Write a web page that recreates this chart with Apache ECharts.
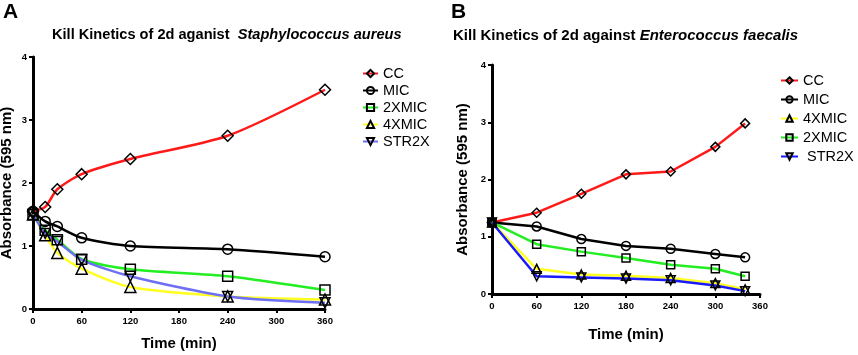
<!DOCTYPE html>
<html>
<head>
<meta charset="utf-8">
<script src="https://cdn.jsdelivr.net/npm/echarts@6/dist/echarts.min.js"></script>
<style>
  html, body { margin: 0; padding: 0; background: #fff; }
  #chart { width: 858px; height: 355px; }
</style>
</head>
<body>
<div id="chart"></div>
<script>
// panel A - Staphylococcus aureus
var timeA = [0, 15, 30, 60, 120, 240, 360]
var ccA = [1.55, 1.62, 1.9, 2.14, 2.38, 2.75, 3.48]
var micA = [1.55, 1.39, 1.31, 1.13, 1.0, 0.95, 0.83]
var mic2A = [1.5, 1.25, 1.1, 0.79, 0.63, 0.52, 0.3]
var mic4A = [1.5, 1.17, 0.89, 0.64, 0.35, 0.2, 0.15]
var strA = [1.5, 1.2, 1.07, 0.78, 0.52, 0.2, 0.1]

// panel B - Enterococcus faecalis
var timeB = [0, 60, 120, 180, 240, 300, 340]
var ccB = [1.25, 1.42, 1.75, 2.09, 2.14, 2.57, 2.98]
var micB = [1.25, 1.18, 0.96, 0.84, 0.79, 0.7, 0.64]
var mic4B = [1.25, 0.44, 0.34, 0.32, 0.28, 0.19, 0.08]
var mic2B = [1.25, 0.87, 0.74, 0.63, 0.51, 0.44, 0.31]
var strB = [1.25, 0.31, 0.29, 0.27, 0.24, 0.15, 0.05]

var xTicks = [0, 60, 120, 180, 240, 300, 360]
var yTicks = [0, 1, 2, 3, 4]

var FONT = '"Liberation Sans", Arial, sans-serif'

function pairs(xs, ys) {
  return xs.map(function(x, i) { return [x, ys[i]] })
}

var invTri = 'path://M0,0 L10,0 L5,9 Z'

function line(name, idx, xs, ys, color, symbol, size, smooth) {
  return {
    name: name,
    type: 'line',
    xAxisIndex: idx,
    yAxisIndex: idx,
    data: pairs(xs, ys),
    smooth: smooth,
    symbol: symbol,
    symbolSize: size,
    showAllSymbol: true,
    lineStyle: { color: color, width: 2.5 },
    itemStyle: { color: 'rgba(255,255,255,0)', borderColor: '#000', borderWidth: 1.5 },
    emphasis: { disabled: true },
    z: 3
  }
}

function xAxis(idx, gap) {
  return {
    gridIndex: idx,
    type: 'value',
    min: 0, max: 360, interval: 60,
    name: 'Time (min)',
    nameLocation: 'middle',
    nameGap: gap,
    nameTextStyle: { fontFamily: FONT, fontWeight: 'bold', fontSize: 15, color: '#000' },
    axisLine: { show: true, onZero: false, lineStyle: { color: '#000', width: 3 } },
    axisTick: { show: true, length: 4, lineStyle: { color: '#000', width: 2 } },
    axisLabel: { fontFamily: FONT, fontWeight: 'bold', fontSize: 9.5, color: '#000', margin: 7,
      formatter: function(v) { return xTicks.indexOf(v) >= 0 ? v : '' } },
    splitLine: { show: false }
  }
}

function yAxis(idx, gap) {
  return {
    gridIndex: idx,
    type: 'value',
    min: 0, max: 4, interval: 1,
    name: 'Absorbance (595 nm)',
    nameLocation: 'middle',
    nameGap: gap,
    nameTextStyle: { fontFamily: FONT, fontWeight: 'bold', fontSize: 15, color: '#000' },
    axisLine: { show: true, onZero: false, lineStyle: { color: '#000', width: 3 } },
    axisTick: { show: true, length: 4, lineStyle: { color: '#000', width: 2 } },
    axisLabel: { fontFamily: FONT, fontWeight: 'bold', fontSize: 9.5, color: '#000', margin: 6,
      formatter: function(v) { return yTicks.indexOf(v) >= 0 ? v : '' } },
    splitLine: { show: false }
  }
}

var chart = echarts.init(document.getElementById('chart'), null, { renderer: 'canvas' })

var option = {
  animation: false,
  backgroundColor: '#fff',
  title: [
    {
      text: 'Kill Kinetics of 2d aganist  {i|Staphylococcus aureus}',
      left: 47, top: 22,
      textStyle: { fontFamily: FONT, fontWeight: 'bold', fontSize: 14.6, color: '#000',
        rich: { i: { fontFamily: FONT, fontWeight: 'bold', fontStyle: 'italic', fontSize: 14.6, color: '#000' } } }
    },
    {
      text: 'Kill Kinetics of 2d against {i|Enterococcus faecalis}',
      left: 448, top: 23,
      textStyle: { fontFamily: FONT, fontWeight: 'bold', fontSize: 15, color: '#000',
        rich: { i: { fontFamily: FONT, fontWeight: 'bold', fontStyle: 'italic', fontSize: 15, color: '#000' } } }
    }
  ],
  graphic: [
    { type: 'text', left: 3, top: 2, style: { text: 'A', fontFamily: FONT, fontWeight: 'bold', fontSize: 21, fill: '#000' } },
    { type: 'text', left: 451, top: 2, style: { text: 'B', fontFamily: FONT, fontWeight: 'bold', fontSize: 21, fill: '#000' } }
  ],
  legend: [
    {
      data: ['CC', 'MIC', '2XMIC', '4XMIC', 'STR2X'],
      orient: 'vertical',
      left: 357, top: 61,
      itemWidth: 15, itemHeight: 9, itemGap: 2,
      textStyle: { fontFamily: FONT, fontSize: 14.5, color: '#000' }
    },
    {
      data: ['CC B', 'MIC B', '4XMIC B', '2XMIC B', 'STR2X B'],
      orient: 'vertical',
      left: 775, top: 68,
      itemWidth: 17, itemHeight: 8, itemGap: 4,
      textStyle: { fontFamily: FONT, fontSize: 14.5, color: '#000' },
      formatter: function(n) { return n === 'STR2X B' ? ' STR2X' : n.replace(/ B$/, '') }
    }
  ],
  grid: [
    { left: 33, right: 533, top: 57, bottom: 46, outerBoundsMode: 'none' },
    { left: 492, right: 98, top: 65, bottom: 61, outerBoundsMode: 'none' }
  ],
  xAxis: [xAxis(0, 27), xAxis(1, 33)],
  yAxis: [yAxis(0, 19), yAxis(1, 22)],
  series: [
    line('CC', 0, timeA, ccA, '#ff1a1a', 'diamond', 11, 0.25),
    line('MIC', 0, timeA, micA, '#000000', 'circle', 10, 0.25),
    line('2XMIC', 0, timeA, mic2A, '#22ee22', 'rect', 10, 0.25),
    line('4XMIC', 0, timeA, mic4A, '#ffff22', 'triangle', 11, 0.25),
    line('STR2X', 0, timeA, strA, '#6f6ff5', invTri, 10, 0.25),
    line('CC B', 1, timeB, ccB, '#ff1a1a', 'diamond', 9, false),
    line('MIC B', 1, timeB, micB, '#000000', 'circle', 9, false),
    line('4XMIC B', 1, timeB, mic4B, '#ffff22', 'triangle', 9, false),
    line('2XMIC B', 1, timeB, mic2B, '#22ee22', 'rect', 8, false),
    line('STR2X B', 1, timeB, strB, '#1a1aff', invTri, 9, false)
  ]
}

chart.setOption(option)
</script>
</body>
</html>
